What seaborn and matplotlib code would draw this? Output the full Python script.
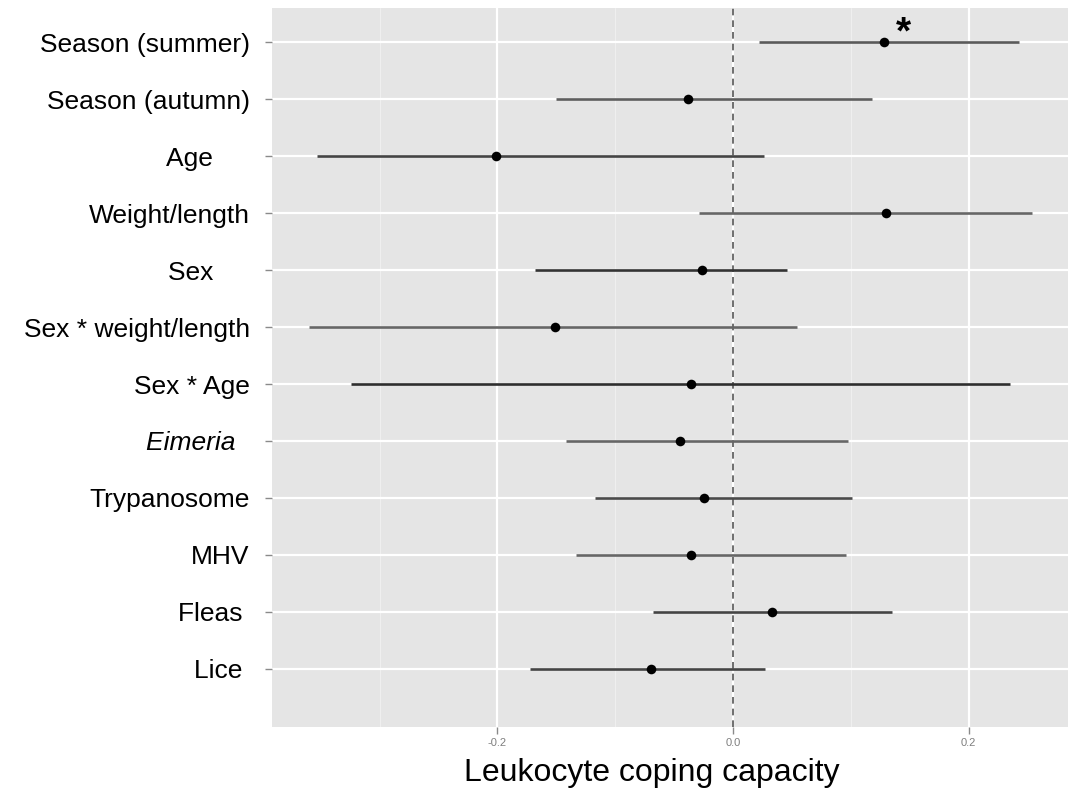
import matplotlib
matplotlib.use("Agg")
import matplotlib.pyplot as plt
import seaborn as sns
import pandas as pd
from matplotlib.ticker import FixedLocator

# ---- data ----
terms = ["Season (summer)", "Season (autumn)", "Age     ", "Weight/length", "Sex     ",
         "Sex * weight/length", "Sex * Age", "Eimeria  ", "Trypanosome", "MHV", "Fleas ", "Lice "]
estimate = [0.128, -0.038, -0.201, 0.130, -0.026, -0.151, -0.036, -0.045, -0.025, -0.036, 0.033, -0.070]
lower = [0.022, -0.150, -0.353, -0.029, -0.168, -0.360, -0.324, -0.142, -0.117, -0.133, -0.068, -0.172]
upper = [0.243, 0.118, 0.026, 0.254, 0.046, 0.054, 0.235, 0.098, 0.101, 0.096, 0.135, 0.027]
x_ticks = [-0.2, 0.0, 0.2]
x_tick_labels = ["-0.2", "0.0", "0.2"]
x_minor = [-0.3, -0.1, 0.1]
x_label = "Leukocyte coping capacity"
signif_label = "*"
signif_term = "Season (summer)"
line_shades = ["#5a5a5a", "#5e5e5e", "#444444", "#666666", "#333333", "#666666",
               "#2e2e2e", "#666666", "#4a4a4a", "#666666", "#444444", "#444444"]

df = pd.DataFrame({"term": terms, "est": estimate, "lo": lower, "hi": upper})

sns.set_theme(style="darkgrid", rc={
    "axes.facecolor": "#E5E5E5",
    "grid.color": "white",
    "xtick.bottom": True,
    "ytick.left": True,
})
plt.rcParams["font.family"] = ["Liberation Sans", "DejaVu Sans"]

fig = plt.figure(figsize=(10.71, 7.93), dpi=100)
ax = fig.add_axes([272 / 1071, 1 - 727 / 793, (1068 - 272) / 1071, (727 - 8) / 793])

# interval lines
ax.hlines(y=df["term"], xmin=df["lo"], xmax=df["hi"], colors=line_shades, linewidth=1.9, zorder=3)
# points
sns.scatterplot(data=df, x="est", y="term", ax=ax, color="black", s=48, edgecolor="black",
                linewidth=0, zorder=4, legend=False)

ax.axvline(0, color="#555555", linestyle=(0, (4, 3)), linewidth=1.2, zorder=2)

ax.set_xlim(-0.3915, 0.2845)
ax.set_ylim(12.02, -0.6)

ax.xaxis.set_major_locator(FixedLocator(x_ticks))
ax.set_xticklabels(x_tick_labels)
ax.xaxis.set_minor_locator(FixedLocator(x_minor))
ax.grid(which="major", color="white", linewidth=1.6)
ax.grid(which="minor", axis="x", color="#F2F2F2", linewidth=0.6)
ax.grid(which="major", axis="y", color="white", linewidth=1.6)

ax.tick_params(axis="x", which="major", length=5, width=1, color="#8a8a8a",
               labelsize=8, labelcolor="#7f7f7f", pad=3)
ax.tick_params(axis="x", which="minor", length=0)
ax.tick_params(axis="y", length=5, width=1, color="#8a8a8a", labelsize=19, labelcolor="black", pad=11)

labels = ax.get_yticklabels()
for lab in labels:
    if lab.get_text().strip() == "Eimeria":
        lab.set_style("italic")

ax.set_xlabel(x_label, fontsize=23, color="black", labelpad=12)
ax.xaxis.set_label_coords(0.477, -0.043, transform=ax.transAxes)
ax.xaxis.label.set_va("top")
ax.set_ylabel("")

for sp in ax.spines.values():
    sp.set_visible(False)

row = terms.index(signif_term)
ax.text(0.145, row + 0.03, signif_label, fontsize=28, fontweight="bold", ha="center",
        va="baseline", color="black", zorder=5)

fig.savefig("out.png", dpi=100)
